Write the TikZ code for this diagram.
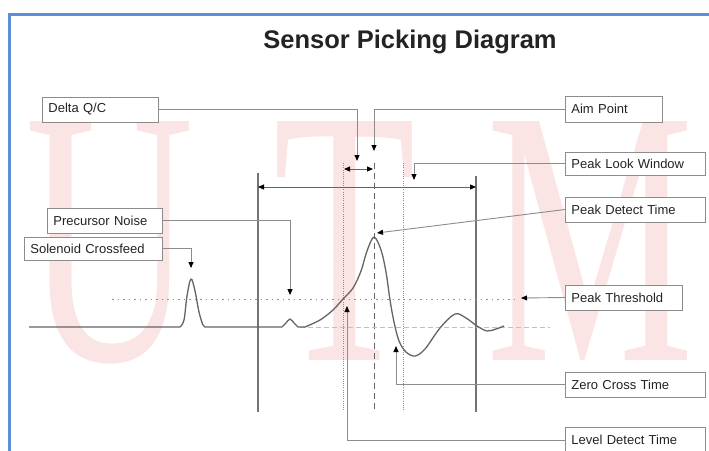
\documentclass[tikz,border=0pt]{standalone}
\usepackage{fontspec}
\setmainfont{Liberation Sans}
\newfontfamily\wmfont{Liberation Serif}
\usetikzlibrary{arrows.meta}
\definecolor{frameblue}{RGB}{91,143,217}
\definecolor{wmpink}{RGB}{251,228,228}
\definecolor{linegray}{RGB}{140,140,140}
\definecolor{curvegray}{RGB}{100,100,100}
\definecolor{txtdark}{RGB}{35,35,35}
\tikzset{
  lbl/.style={draw=linegray, line width=0.8pt, fill=white, text=txtdark,
    font=\fontsize{13}{15}\selectfont, align=left, inner xsep=6pt,
    inner ysep=0pt, minimum height=25pt, anchor=west},
  conn/.style={draw=linegray, line width=0.9pt,
    -{Triangle[length=6pt,width=5pt,color=black]}},
  dbl/.style={draw=curvegray, line width=1pt,
    {Triangle[length=6pt,width=5pt,color=black]}-{Triangle[length=6pt,width=5pt,color=black]}},
  wm/.style={text=wmpink, font=\wmfont\fontsize{365}{365}\selectfont, xscale=0.64, anchor=base, inner sep=0pt},
  vsolid/.style={draw=curvegray!90, line width=1.2pt},
  vdot/.style={draw=linegray, line width=0.9pt, dash pattern=on 1pt off 1.2pt},
  vdash/.style={draw=curvegray, line width=1pt, dash pattern=on 6pt off 4pt},
  sig/.style={draw=curvegray, line width=1.3pt, line join=round}
}
\begin{document}
\begin{tikzpicture}[x=1pt,y=-1pt]
\useasboundingbox (0,0) rectangle (709,450);
\clip (0,0) rectangle (709,450);
\fill[white] (0,0) rectangle (709,450);
% watermark
\node[wm] (wU) at (110,360) {U};
\node[wm] (wT) at (345,360) {T};
\node[wm] (wM) at (590,360) {M};
% frame
\draw[frameblue, line width=3pt] (712,14) -- (9,14) -- (9,455);
% title
\node[font=\bfseries\fontsize{25.5}{30}\selectfont, text=txtdark] (title) at (410,42) {Sensor Picking Diagram};
% vertical lines
\draw[vsolid] (258,173) -- (258,412);
\draw[vsolid] (476,176) -- (476,412);
\draw[vdot] (343,163) -- (343,410);
\draw[vdot] (403,163) -- (403,410);
\draw[vdash] (374,163) -- (374,412);
% threshold and baseline continuation
\draw[linegray, line width=1pt, dash pattern=on 1.5pt off 4pt] (112,299) -- (515,299);
\draw[linegray!55, line width=0.9pt, dash pattern=on 5pt off 3pt] (300,327) -- (550,327);
% signal
\draw[sig] (29,327) -- (180,327)
  plot[smooth, tension=0.6] coordinates {(180,327) (184,320) (187,296) (191,279) (195,291) (199,312) (203,325) (206,327)}
  -- (282,327)
  plot[smooth, tension=0.6] coordinates {(282,327) (286,323) (290,319) (294,323) (298,327)}
  -- (305,327)
  plot[smooth, tension=0.55] coordinates {(305,327) (320,320) (333,310) (343,299) (353,288) (361,271) (367,251) (374,237) (381,250) (386,272) (390,300) (394,322) (399,341) (406,352) (415,356) (425,349) (440,328) (455,314) (466,318) (477,326) (487,331) (496,329) (504,326)};
% spans
\coordinate (wl) at (258,187);
\coordinate (wr) at (476,187);
\draw[dbl] (wl) -- (wr);
\coordinate (dl) at (344,169);
\coordinate (dr) at (373,169);
\draw[dbl] (dl) -- (dr);
% label boxes
\node[lbl, text width=104pt] (dq) at (42,109.5) {Delta Q/C};
\node[lbl, text width=103pt] (pn) at (47,220.5) {Precursor Noise};
\node[lbl, text width=126pt, minimum height=23pt] (sc) at (24,248.5) {Solenoid Crossfeed};
\node[lbl, text width=85pt, minimum height=26pt] (ap) at (565,109) {Aim Point};
\node[lbl, text width=128pt, minimum height=23pt] (plw) at (565,163.5) {Peak Look Window};
\node[lbl, text width=128pt] (pdt) at (565,209.5) {Peak Detect Time};
\node[lbl, text width=105pt] (pt) at (565,297.5) {Peak Threshold};
\node[lbl, text width=128pt] (zct) at (565,384.5) {Zero Cross Time};
\node[lbl, text width=128pt, minimum height=26pt] (ldt) at (565,440) {Level Detect Time};
% connectors
\coordinate (dqT) at (357,161);
\coordinate (apT) at (374,151);
\coordinate (plwT) at (414,180);
\coordinate (pdtT) at (377,233);
\coordinate (ptT) at (521,298);
\coordinate (zctT) at (396,346);
\coordinate (ldtT) at (347,306);
\coordinate (pnT) at (290,295);
\coordinate (scT) at (191,268);
\draw[conn] (dq.east) -| (dqT);
\draw[conn] (ap.west) -| (apT);
\draw[conn] (plw.west) -| (plwT);
\draw[conn] (pdt.west) -- (pdtT);
\draw[conn] (pt.west) -- (ptT);
\draw[conn] (zct.west) -| (zctT);
\draw[conn] (ldt.west) -| (ldtT);
\draw[conn] (pn.east) -| (pnT);
\draw[conn] (sc.east) -| (scT);
\end{tikzpicture}
\end{document}
